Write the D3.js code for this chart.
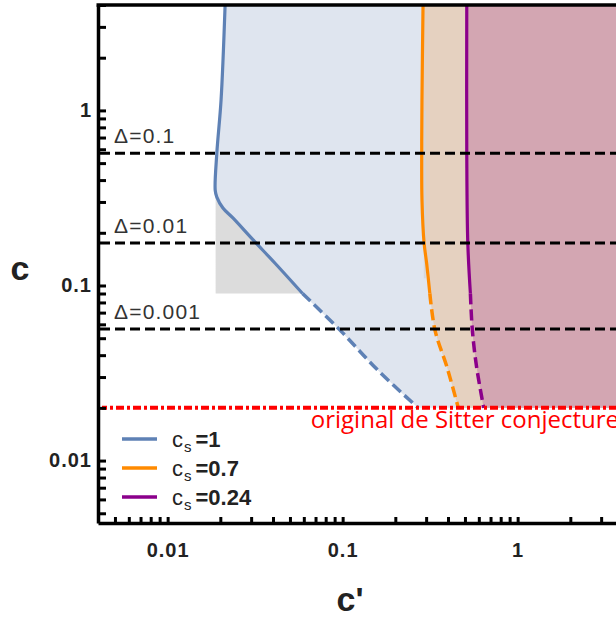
<!DOCTYPE html>
<html>
<head>
  <meta charset="utf-8">
  <script src="https://d3js.org/d3.v7.min.js"></script>
  <style>
    body { margin: 0; background: #fff; }
  </style>
</head>
<body>
  <div id="chart"></div>
  <script>

    // curves, as [c', c] pairs (top to bottom)
    var blueCurve = [[0.0213, 4], [0.0202, 1.15], [0.0191, 0.57], [0.0187, 0.35], [0.0191, 0.32],
                     [0.0207, 0.277], [0.0236, 0.243], [0.0308, 0.182], [0.0411, 0.134], [0.059, 0.09],
                     [0.0966, 0.0556], [0.159, 0.0328], [0.27, 0.02]]
    var orangeCurve = [[0.288, 4], [0.284, 1.15], [0.283, 0.57], [0.284, 0.308], [0.292, 0.175],
                       [0.302, 0.134], [0.315, 0.09], [0.337, 0.0556], [0.395, 0.0341], [0.458, 0.02]]
    var purpleCurve = [[0.512, 4], [0.512, 0.57], [0.519, 0.175], [0.537, 0.09], [0.551, 0.0556],
                       [0.583, 0.0341], [0.64, 0.02]]

    var seriesNames = ["1", "0.7", "0.24"]
    var seriesColors = ["#5e81b5", "#ff8a00", "#8b008b"]
    var fillColors = ["#dfe5ef", "#e5d1c0", "#d3a6b2"]

    // below this c the curves are dashed
    var cSplit = 0.09

    // grey corner left of the blue kink
    var greyLeft = 0.0188
    // thin grey strip next to the orange curve: [c'0, c'1, c0, c1]
    var greyStrip = [0.291, 0.299, 0.11, 1.0]

    var deltaLevels = [0.57, 0.175, 0.0565]
    var deltaLabels = ["\u0394=0.1", "\u0394=0.01", "\u0394=0.001"]
    var deSitter = 0.02

    var xMajor = [0.01, 0.1, 1]
    var xMajorLabels = ["0.01", "0.1", "1"]
    var yMajor = [0.01, 0.1, 1]
    var yMajorLabels = ["0.01", "0.1", "1"]

    var width = 616, height = 618
    var plotLeft = 98, plotTop = 5, plotBottom = 523

    var svg = d3.select("#chart").append("svg")
      .attr("width", width)
      .attr("height", height)
      .attr("font-family", "Liberation Sans, Arial, sans-serif")

    var x = d3.scaleLog().domain([0.004, 4]).range([plotLeft, plotLeft + 525])
    var y = d3.scaleLog().domain([0.0044, 4]).range([plotBottom, plotTop])
    var xRight = x.range()[1]

    var line = d3.line()
      .x(function(d) { return x(d[0]) })
      .y(function(d) { return y(d[1]) })
      .curve(d3.curveCatmullRom)

    var areaRight = d3.area()
      .x0(function(d) { return x(d[0]) })
      .x1(xRight)
      .y(function(d) { return y(d[1]) })
      .curve(d3.curveCatmullRom)

    var curves = [blueCurve, orangeCurve, purpleCurve]

    // grey region
    var kink = blueCurve.filter(function(d) { return d[1] <= 0.35 && d[1] >= cSplit })
    svg.append("path")
      .attr("d", d3.area()
        .x0(x(greyLeft))
        .x1(function(d) { return x(d[0]) })
        .y(function(d) { return y(d[1]) })
        .curve(d3.curveCatmullRom)(kink))
      .attr("fill", "#dcdcdc")

    // fills, each one to the right of its curve
    curves.forEach(function(c, i) {
      svg.append("path")
        .attr("d", areaRight(c))
        .attr("fill", fillColors[i])
    })

    svg.append("rect")
      .attr("x", x(greyStrip[0]))
      .attr("width", x(greyStrip[1]) - x(greyStrip[0]))
      .attr("y", y(greyStrip[3]))
      .attr("height", y(greyStrip[2]) - y(greyStrip[3]))
      .attr("fill", "#d4d4d4")
      .attr("opacity", 0.8)

    // curves: solid above cSplit, dashed below
    curves.forEach(function(c, i) {
      var solid = c.filter(function(d) { return d[1] >= cSplit })
      var dashed = c.filter(function(d) { return d[1] <= cSplit })
      svg.append("path")
        .attr("d", line(solid))
        .attr("fill", "none")
        .attr("stroke", seriesColors[i])
        .attr("stroke-width", 3.2)
      svg.append("path")
        .attr("d", line(dashed))
        .attr("fill", "none")
        .attr("stroke", seriesColors[i])
        .attr("stroke-width", 3.5)
        .attr("stroke-dasharray", "11,5")
    })

    // Delta lines
    svg.selectAll(".delta")
      .data(deltaLevels)
      .enter()
      .append("line")
      .attr("class", "delta")
      .attr("x1", plotLeft + 2)
      .attr("x2", width)
      .attr("y1", function(d) { return y(d) })
      .attr("y2", function(d) { return y(d) })
      .attr("stroke", "#000")
      .attr("stroke-width", 3)
      .attr("stroke-dasharray", "10,5")

    svg.selectAll(".deltaLabel")
      .data(deltaLevels)
      .enter()
      .append("text")
      .attr("class", "deltaLabel")
      .attr("x", 114)
      .attr("y", function(d) { return y(d) - 10 })
      .attr("font-size", 21)
      .attr("letter-spacing", 1.2)
      .attr("fill", "#333")
      .text(function(d, i) { return deltaLabels[i] })

    // original de Sitter line
    svg.append("line")
      .attr("x1", plotLeft + 4)
      .attr("x2", width)
      .attr("y1", y(deSitter))
      .attr("y2", y(deSitter))
      .attr("stroke", "#ff0000")
      .attr("stroke-width", 4)
      .attr("stroke-dasharray", "8,3,3,3")
      .attr("stroke-dashoffset", 3)

    svg.append("text")
      .attr("x", 619)
      .attr("y", y(deSitter) + 20)
      .attr("text-anchor", "end")
      .attr("font-family", "Open Sans, sans-serif")
      .attr("font-size", 24)
      .attr("fill", "#ff0000")
      .text("original de Sitter conjecture")

    // axes, ticks pointing inwards
    var xAxis = d3.axisBottom(x)
      .tickValues(x.ticks())
      .tickSizeInner(-6)
      .tickSizeOuter(0)
      .tickPadding(20)
      .tickFormat(function(d) {
        var k = xMajor.indexOf(+d.toPrecision(3))
        return k < 0 ? "" : xMajorLabels[k]
      })

    var yAxis = d3.axisLeft(y)
      .tickValues(y.ticks())
      .tickSizeInner(-8)
      .tickSizeOuter(0)
      .tickPadding(6)
      .tickFormat(function(d) {
        var k = yMajor.indexOf(+d.toPrecision(3))
        return k < 0 ? "" : yMajorLabels[k]
      })

    var gx = svg.append("g")
      .attr("transform", "translate(0," + plotBottom + ")")
      .call(xAxis)
    var gy = svg.append("g")
      .attr("transform", "translate(" + plotLeft + ",0)")
      .call(yAxis)

    ;[gx, gy].forEach(function(g) {
      g.attr("font-family", "Liberation Sans, Arial, sans-serif")
      g.select(".domain").attr("stroke-width", 3.5).attr("stroke", "#000")
      g.selectAll(".tick line").attr("stroke-width", 3).attr("stroke", "#000")
      g.selectAll(".tick text")
        .attr("font-size", 20)
        .attr("font-weight", "bold")
        .attr("letter-spacing", 1)
        .attr("fill", "#222")
    })

    // top frame
    svg.append("line")
      .attr("x1", plotLeft - 1.5)
      .attr("x2", width)
      .attr("y1", plotTop)
      .attr("y2", plotTop)
      .attr("stroke", "#000")
      .attr("stroke-width", 3.5)

    // axis titles
    svg.append("text")
      .attr("x", 20)
      .attr("y", 280)
      .attr("text-anchor", "middle")
      .attr("font-size", 34)
      .attr("font-weight", "bold")
      .attr("fill", "#222")
      .text("c")

    svg.append("text")
      .attr("x", 350)
      .attr("y", 611)
      .attr("text-anchor", "middle")
      .attr("font-size", 34)
      .attr("font-weight", "bold")
      .attr("fill", "#222")
      .text("c'")

    // legend
    var legend = svg.selectAll(".legend")
      .data(seriesNames)
      .enter()
      .append("g")
      .attr("class", "legend")
      .attr("transform", function(d, i) { return "translate(122," + (439 + i * 29) + ")" })

    legend.append("line")
      .attr("x1", 0)
      .attr("x2", 35)
      .attr("stroke", function(d, i) { return seriesColors[i] })
      .attr("stroke-width", 3.5)

    var lt = legend.append("text")
      .attr("x", 50)
      .attr("y", 8)
      .attr("font-size", 22)
      .attr("fill", "#222")
    lt.append("tspan").text("c")
    lt.append("tspan").attr("font-size", 15).attr("dy", 5).attr("dx", 1).text("s")
    lt.append("tspan").attr("font-weight", "bold").attr("dy", -5).attr("dx", 4)
      .text(function(d) { return "=" + d })

  </script>
</body>
</html>
